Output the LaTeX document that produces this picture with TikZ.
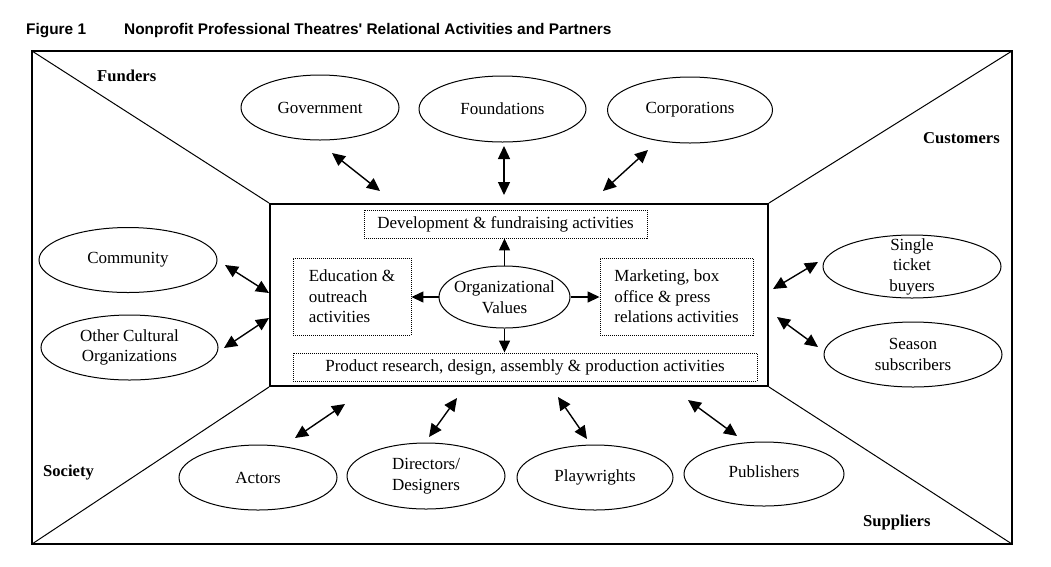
\documentclass[tikz,border=0pt]{standalone}
\usepackage{fontspec}
\setmainfont{Liberation Serif}
\newfontfamily\titlefont{Liberation Sans}
\usetikzlibrary{shapes.geometric,arrows.meta}
\begin{document}
\begin{tikzpicture}[x=1pt,y=-1pt,
  every node/.style={font=\fontsize{17}{20.5}\selectfont},
  ell/.style={draw,ellipse,inner sep=0pt,line width=1pt},
  txt/.style={align=center,inner sep=0pt},
  dbox/.style={draw,dash pattern=on 1pt off 1pt,line width=0.9pt,inner sep=0pt,align=left},
  grp/.style={font=\fontsize{16.6}{20}\selectfont\bfseries,anchor=base west,inner sep=0pt},
  ttl/.style={font=\titlefont\fontsize{15.4}{18}\selectfont\bfseries,anchor=base west,inner sep=0pt},
  dbl/.style={{Triangle[length=13pt,width=12pt]}-{Triangle[length=13pt,width=12pt]},line width=1.4pt},
  sgl/.style={-{Triangle[length=12pt,width=11pt]},line width=1.4pt},
  diag/.style={line width=1pt}]
\fill[white] (0,0) rectangle (1051,566);
\useasboundingbox (0,0) rectangle (1051,566);

% title
\node[ttl] (fig) at (26,34.5) {Figure 1};
\node[ttl] (title) at (124,34.5) {Nonprofit Professional Theatres' Relational Activities and Partners};

% outer frame
\coordinate (o1) at (32,51);
\coordinate (o2) at (1012,51);
\coordinate (o3) at (1012,544);
\coordinate (o4) at (32,544);
\draw[line width=2.2pt] (o1) -- (o2) -- (o3) -- (o4) -- cycle;

% inner box
\node[draw,line width=2pt,minimum width=498,minimum height=182,inner sep=0pt] (inner) at (519,295) {};
\draw[diag] (o1) -- (inner.north west);
\draw[diag] (o2) -- (inner.north east);
\draw[diag] (o3) -- (inner.south east);
\draw[diag] (o4) -- (inner.south west);

% group labels
\node[grp] (funders) at (97,81.5) {Funders};
\node[grp] (customers) at (923,143.5) {Customers};
\node[grp] (society) at (43,476.5) {Society};
\node[grp] (suppliers) at (863,526.5) {Suppliers};

% inner activity boxes
\node[dbox,minimum width=283,minimum height=28] (dev) at (505.5,224) {Development \& fundraising activities};
\node[dbox,minimum width=118,minimum height=77] (edu) at (352,296.5) {Education \&\\outreach\\activities};
\node[dbox,minimum width=153,minimum height=77] (mkt) at (676.5,296.5) {Marketing, box\\office \& press\\relations activities};
\node[dbox,minimum width=464,minimum height=28] (prod) at (525,367) {Product research, design, assembly \& production activities};
\node[ell,minimum width=131,minimum height=62] (ov) at (504.5,297) {};
\node[txt] (ovt) at (ov) {Organizational\\Values};
\draw[sgl] (ov.north) -- (ov.north |- dev.south);
\draw[sgl] (ov.south) -- (ov.south |- prod.north);
\draw[sgl] (ov.west) -- (edu.east |- ov.west);
\draw[sgl] (ov.east) -- (mkt.west |- ov.east);

% partner ellipses
\node[ell,minimum width=158,minimum height=65] (gov) at (320,107.5) {};
\node[txt] (govt) at (gov) {Government};
\node[ell,minimum width=167,minimum height=66] (found) at (502.5,109) {};
\node[txt] (foundt) at (found) {Foundations};
\node[ell,minimum width=165,minimum height=66] (corp) at (690,110) {};
\node[txt] (corpt) at (corp) {Corporations};
\node[ell,minimum width=178,minimum height=65] (comm) at (128,260) {};
\node[txt] (commt) at (comm) {Community};
\node[ell,minimum width=177,minimum height=65] (other) at (129.5,347.5) {};
\node[txt] (othert) at (other) {Other Cultural\\Organizations};
\node[ell,minimum width=178,minimum height=63] (stb) at (912,266.5) {};
\node[txt] (stbt) at (stb) {Single\\ticket\\buyers};
\node[ell,minimum width=178,minimum height=65] (season) at (913,354.5) {};
\node[txt] (seasont) at (season) {Season\\subscribers};
\node[ell,minimum width=158,minimum height=65] (actors) at (258,477.5) {};
\node[txt] (actorst) at (actors) {Actors};
\node[ell,minimum width=158,minimum height=66] (dirs) at (426,476) {};
\node[txt] (dirst) at (dirs) {Directors/\\Designers};
\node[ell,minimum width=156,minimum height=65] (playw) at (595,477.5) {};
\node[txt] (playwt) at (playw) {Playwrights};
\node[ell,minimum width=160,minimum height=64] (publ) at (764,474) {};
\node[txt] (publt) at (764,472) {Publishers};

% two-way arrows
\coordinate (govA) at (332,153);   \coordinate (govB) at (380,191);
\coordinate (fndA) at (504,146);   \coordinate (fndB) at (504,195);
\coordinate (corA) at (648,150);   \coordinate (corB) at (603,191);
\coordinate (comA) at (225,265);   \coordinate (comB) at (269,293);
\coordinate (othA) at (224,348);   \coordinate (othB) at (269,318);
\coordinate (stbA) at (818,262);   \coordinate (stbB) at (773,289);
\coordinate (seaA) at (818,347);   \coordinate (seaB) at (777,317);
\coordinate (actA) at (295,438);   \coordinate (actB) at (345,404);
\coordinate (dirA) at (429,437);   \coordinate (dirB) at (457,398);
\coordinate (plwA) at (587,439);   \coordinate (plwB) at (558,397);
\coordinate (pubA) at (737,436);   \coordinate (pubB) at (688,400);
\foreach \n in {gov,fnd,cor,com,oth,stb,sea,act,dir,plw,pub}
  \draw[dbl] (\n A) -- (\n B);
\end{tikzpicture}
\end{document}
